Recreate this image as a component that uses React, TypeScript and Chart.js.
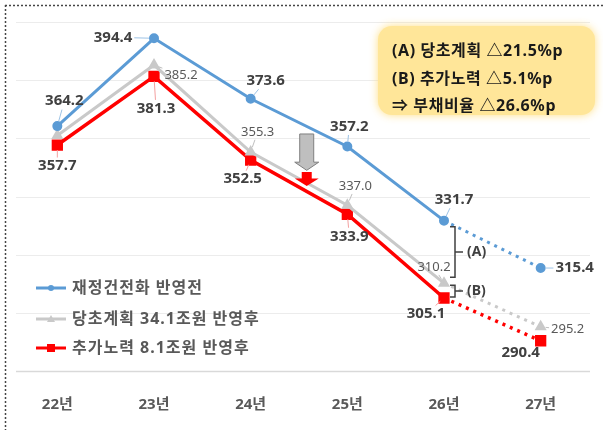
import React, { useEffect, useRef } from 'react';
import { Chart, registerables } from 'chart.js';

Chart.register(...registerables);

const years = ['22년', '23년', '24년', '25년', '26년', '27년'];
const beforeValues = [364.2, 394.4, 373.6, 357.2, 331.7, 315.4];
const planValues = [361.0, 385.2, 355.3, 337.0, 310.2, 295.2];
const extraValues = [357.7, 381.3, 352.5, 333.9, 305.1, 290.4];
const planLabelShown = [false, true, true, true, true, true];
const seriesNames = ['재정건전화 반영전', '당초계획 34.1조원 반영후', '추가노력 8.1조원 반영후'];
const noteLines = ['(A) 당초계획 △21.5%p', '(B) 추가노력 △5.1%p', '⇒ 부채비율 △26.6%p'];
const bracketLabels = ['(A)', '(B)'];
const yMin = 280;
const yMax = 400;
const yStep = 20;

const FONT = "'Noto Sans', 'Noto Sans CJK KR', sans-serif";
const BLUE = '#5B9BD5';
const GRAY = '#C9C9C9';
const RED = '#FF0000';

// label offsets (text centre relative to point), pixels
const labelOffsets: (number[] | null)[][] = [
  [[7, -25], [-41, -1], [15, -18], [2, -20], [10, -21], [34, 0]],
  [null, [27, 10], [7, -20], [8, -19], [-10, -16], [27, 3]],
  [[0, 21], [2, 32], [-8, 19], [2, 22], [-18, 16], [-20, 12]],
];
const leaderColors = ['#9DC3E6', '#BFBFBF', '#F4A0A0'];

const frameBg = {
  id: 'frameBg',
  beforeDraw(chart: any) {
    const { ctx, width, height } = chart;
    ctx.save();
    ctx.fillStyle = '#ffffff';
    ctx.fillRect(0, 0, width, height);
    ctx.strokeStyle = '#444';
    ctx.lineWidth = 1.5;
    ctx.setLineDash([2, 2]);
    ctx.beginPath();
    ctx.moveTo(5, 5.5);
    ctx.lineTo(width, 5.5);
    ctx.moveTo(5.5, 5);
    ctx.lineTo(5.5, height);
    ctx.stroke();
    ctx.setLineDash([]);
    // grid lines
    const ys = chart.scales.y;
    for (let v = yMin; v <= yMax; v += yStep) {
      const py = Math.round(ys.getPixelForValue(v)) + 0.5;
      ctx.strokeStyle = v === yMin ? '#D9D9D9' : '#ECECEC';
      ctx.lineWidth = v === yMin ? 1.5 : 1;
      ctx.beginPath();
      ctx.moveTo(16, py);
      ctx.lineTo(590, py);
      ctx.stroke();
    }
    // note box
    ctx.save();
    ctx.shadowColor = 'rgba(255, 220, 120, 0.9)';
    ctx.shadowBlur = 8;
    ctx.fillStyle = '#FFE699';
    ctx.beginPath();
    (ctx as any).roundRect(378, 26, 217, 89, 14);
    ctx.fill();
    ctx.restore();
    ctx.fillStyle = '#1a1a1a';
    ctx.font = `bold 16px ${FONT}`;
    (ctx as any).letterSpacing = '0.6px';
    ctx.textBaseline = 'middle';
    ctx.textAlign = 'left';
    const ly = [51, 79, 106];
    noteLines.forEach((t, i) => ctx.fillText(t, 392, ly[i]));
    (ctx as any).letterSpacing = '0px';
    ctx.restore();
  },
};

const annotations = {
  id: 'annotations',
  afterDatasetsDraw(chart: any) {
    const { ctx } = chart;
    const xs = chart.scales.x;
    const ys = chart.scales.y;
    ctx.save();
    // brackets
    const bx = xs.getPixelForValue(4) + 11;
    const yB = ys.getPixelForValue(beforeValues[4]);
    const yP = ys.getPixelForValue(planValues[4]);
    const yE = ys.getPixelForValue(extraValues[4]);
    const spans = [
      [yB + 6, yP - 6],
      [yP + 2, yE - 1],
    ];
    ctx.strokeStyle = '#404040';
    ctx.lineWidth = 1.5;
    ctx.fillStyle = '#404040';
    ctx.font = `bold 14px ${FONT}`;
    ctx.textBaseline = 'middle';
    ctx.textAlign = 'left';
    spans.forEach(([t, b], i) => {
      const m = (t + b) / 2;
      ctx.beginPath();
      ctx.moveTo(bx - 5, t);
      ctx.lineTo(bx, t);
      ctx.lineTo(bx, b);
      ctx.lineTo(bx - 5, b);
      ctx.moveTo(bx, m);
      ctx.lineTo(bx + 8, m);
      ctx.stroke();
      ctx.fillText(bracketLabels[i], bx + 12, m);
    });
    // arrows
    const ax = xs.getPixelForValue(2.58);
    const gTop = ys.getPixelForValue(361.5);
    const gShaft = ys.getPixelForValue(351.8);
    const gTip = ys.getPixelForValue(349.0);
    ctx.fillStyle = '#BFBFBF';
    ctx.strokeStyle = '#7F7F7F';
    ctx.lineWidth = 1;
    ctx.beginPath();
    ctx.moveTo(ax - 7, gTop);
    ctx.lineTo(ax + 7, gTop);
    ctx.lineTo(ax + 7, gShaft);
    ctx.lineTo(ax + 12, gShaft);
    ctx.lineTo(ax, gTip);
    ctx.lineTo(ax - 12, gShaft);
    ctx.lineTo(ax - 7, gShaft);
    ctx.closePath();
    ctx.fill();
    ctx.stroke();
    const rTop = ys.getPixelForValue(348.4);
    const rShaft = ys.getPixelForValue(346.2);
    const rTip = ys.getPixelForValue(343.6);
    ctx.fillStyle = RED;
    ctx.beginPath();
    ctx.moveTo(ax - 5, rTop);
    ctx.lineTo(ax + 5, rTop);
    ctx.lineTo(ax + 5, rShaft);
    ctx.lineTo(ax + 12, rShaft);
    ctx.lineTo(ax, rTip);
    ctx.lineTo(ax - 12, rShaft);
    ctx.lineTo(ax - 5, rShaft);
    ctx.closePath();
    ctx.fill();

    // value labels
    chart.data.datasets.forEach((ds: any, di: number) => {
      const meta = chart.getDatasetMeta(di);
      meta.data.forEach((pt: any, i: number) => {
        const off = labelOffsets[di][i];
        if (!off) return;
        if (di === 1 && !planLabelShown[i]) return;
        const text = ds.data[i].toFixed(1);
        const bold = di !== 1;
        ctx.font = bold ? `bold 15px ${FONT}` : `13px ${FONT}`;
        const w = ctx.measureText(text).width;
        const h = bold ? 11 : 9.5;
        const cx = pt.x + off[0];
        const cy = pt.y + off[1];
        const dx = off[0];
        const dy = off[1];
        const len = Math.hypot(dx, dy);
        const tx = Math.abs(dx) > 0.01 ? (w / 2 + 2) / Math.abs(dx) : Infinity;
        const ty = Math.abs(dy) > 0.01 ? (h / 2 + 3) / Math.abs(dy) : Infinity;
        const te = Math.min(tx, ty);
        const ex = cx - dx * te;
        const ey = cy - dy * te;
        const sx = pt.x + (dx / len) * 5;
        const sy = pt.y + (dy / len) * 5;
        if (Math.hypot(ex - sx, ey - sy) > 3 && te < 1) {
          ctx.strokeStyle = leaderColors[di];
          ctx.lineWidth = 1;
          ctx.beginPath();
          ctx.moveTo(sx, sy);
          ctx.lineTo(ex, ey);
          ctx.stroke();
        }
        ctx.fillStyle = bold ? '#404040' : '#595959';
        ctx.textAlign = 'center';
        ctx.textBaseline = 'middle';
        ctx.fillText(text, cx, cy);
      });
    });

    // legend
    const legendY = [288, 319, 348];
    const colors = [BLUE, GRAY, RED];
    const styles = ['circle', 'triangle', 'rect'];
    legendY.forEach((y, i) => {
      ctx.strokeStyle = colors[i];
      ctx.lineWidth = 3;
      ctx.beginPath();
      ctx.moveTo(36, y);
      ctx.lineTo(66, y);
      ctx.stroke();
      ctx.fillStyle = colors[i];
      ctx.beginPath();
      if (styles[i] === 'circle') ctx.arc(51, y, 3, 0, Math.PI * 2);
      else if (styles[i] === 'triangle') {
        ctx.moveTo(51, y - 4);
        ctx.lineTo(55, y + 3);
        ctx.lineTo(47, y + 3);
        ctx.closePath();
      } else ctx.rect(47, y - 4, 8, 8);
      ctx.fill();
      ctx.fillStyle = '#595959';
      ctx.font = `bold 16px ${FONT}`;
      (ctx as any).letterSpacing = '1px';
      ctx.textAlign = 'left';
      ctx.textBaseline = 'middle';
      ctx.fillText(seriesNames[i], 72, y);
      (ctx as any).letterSpacing = '0px';
    });
    ctx.restore();
  },
};

const dashLast = (ctx: any) => (ctx.p0DataIndex === 4 ? [3, 5] : undefined);

export default function App() {
  const ref = useRef<HTMLCanvasElement>(null);
  useEffect(() => {
    if (!ref.current) return;
    const chart = new Chart(ref.current, {
      type: 'line',
      data: {
        labels: years,
        datasets: [
          {
            label: seriesNames[0],
            data: beforeValues,
            borderColor: BLUE,
            backgroundColor: BLUE,
            borderWidth: 3,
            pointStyle: 'circle',
            pointRadius: 3.5,
            segment: { borderDash: dashLast },
          },
          {
            label: seriesNames[1],
            data: planValues,
            borderColor: GRAY,
            backgroundColor: GRAY,
            borderWidth: 3,
            pointStyle: 'triangle',
            pointRadius: 4,
            segment: { borderDash: dashLast },
          },
          {
            label: seriesNames[2],
            data: extraValues,
            borderColor: RED,
            backgroundColor: RED,
            borderWidth: 3.5,
            pointStyle: 'rect',
            pointRadius: 5.5,
            segment: { borderDash: dashLast },
          },
        ],
      },
      options: {
        responsive: false,
        animation: false,
        layout: { padding: { left: 6, right: 14, top: 22, bottom: -9 } },
        plugins: { legend: { display: false }, tooltip: { enabled: false } },
        scales: {
          x: {
            offset: true,
            grid: { display: false, drawTicks: false },
            border: { display: false },
            ticks: { color: '#595959', font: { family: FONT, size: 15, weight: 'bold' }, padding: 25 },
          },
          y: {
            display: false,
            min: yMin,
            max: yMax,
            ticks: { stepSize: yStep },
          },
        },
      },
      plugins: [frameBg, annotations],
    });
    return () => chart.destroy();
  }, []);
  return (
    <div style={{ position: 'fixed', left: 0, top: 0, width: 603, height: 430 }}>
      <canvas ref={ref} width={603} height={430} />
    </div>
  );
}
